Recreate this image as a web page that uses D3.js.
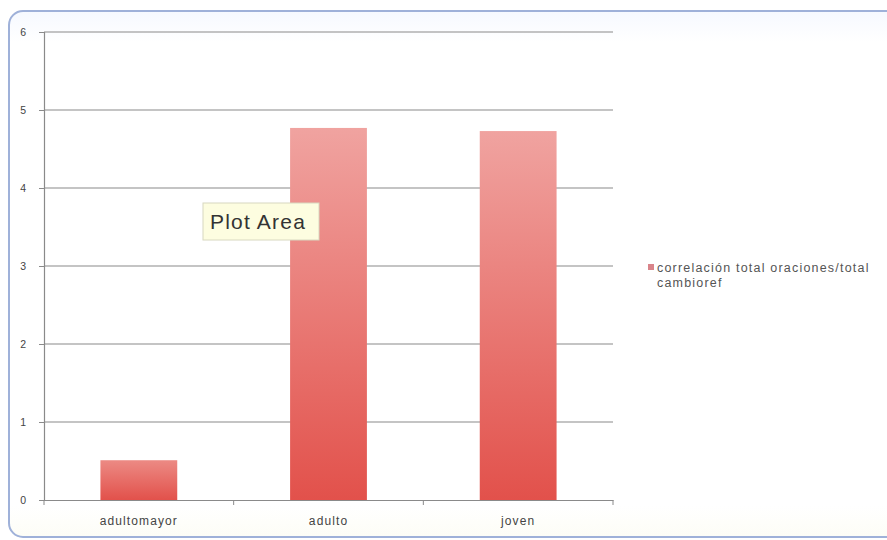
<!DOCTYPE html>
<html>
<head>
<meta charset="utf-8">
<script src="https://cdn.jsdelivr.net/npm/d3@7"></script>
<style>
  html, body { margin: 0; padding: 0; background: #ffffff; }
  svg { display: block; }
</style>
</head>
<body>
<svg id="chart" width="887" height="540"></svg>
<script>
// Chart data
const categories = ["adultomayor", "adulto", "joven"];
const values = [0.51, 4.77, 4.73];
const yTicks = [0, 1, 2, 3, 4, 5, 6];
const seriesName = ["correlación total oraciones/total", "cambioref"];
const tooltipText = "Plot Area";

const svg = d3.select("#chart");
const defs = svg.append("defs");

// Frame gradient (soft bluish-white panel)
const frameGrad = defs.append("linearGradient")
  .attr("id", "frameGrad").attr("x1", 0).attr("y1", 0).attr("x2", 0).attr("y2", 1);
frameGrad.append("stop").attr("offset", "0%").attr("stop-color", "#f6f9ff");
frameGrad.append("stop").attr("offset", "6%").attr("stop-color", "#ffffff");
frameGrad.append("stop").attr("offset", "94%").attr("stop-color", "#ffffff");
frameGrad.append("stop").attr("offset", "100%").attr("stop-color", "#fdfdf6");

// Bar gradient: light pink at top, deeper red at bottom
const barGrad = defs.append("linearGradient")
  .attr("id", "barGrad").attr("x1", 0).attr("y1", 0).attr("x2", 0).attr("y2", 1);
barGrad.append("stop").attr("offset", "0%").attr("stop-color", "#f0a3a0");
barGrad.append("stop").attr("offset", "100%").attr("stop-color", "#e2514b");

const barGradSmall = defs.append("linearGradient")
  .attr("id", "barGradSmall").attr("x1", 0).attr("y1", 0).attr("x2", 0).attr("y2", 1);
barGradSmall.append("stop").attr("offset", "0%").attr("stop-color", "#ec8a84");
barGradSmall.append("stop").attr("offset", "100%").attr("stop-color", "#e2514b");

// Outer chart frame
svg.append("rect")
  .attr("x", 9).attr("y", 11).attr("width", 900).attr("height", 526)
  .attr("rx", 14).attr("ry", 14)
  .attr("fill", "url(#frameGrad)")
  .attr("stroke", "#9fb1d9").attr("stroke-width", 2);

// Plot geometry
const plot = { left: 44, right: 613, top: 32, bottom: 500 };

const x = d3.scaleBand()
  .domain(categories)
  .range([plot.left, plot.right])
  .paddingInner(0.595)
  .paddingOuter(0.2975);

const y = d3.scaleLinear()
  .domain([0, 6])
  .range([plot.bottom, plot.top]);

// Horizontal gridlines
svg.append("g")
  .selectAll("line")
  .data(yTicks.filter(d => d > 0))
  .join("line")
  .attr("x1", plot.left).attr("x2", plot.right)
  .attr("y1", d => y(d)).attr("y2", d => y(d))
  .attr("stroke", "#8a8a8a").attr("stroke-width", 1.2);

// Y axis
const yAxis = svg.append("g")
  .attr("transform", `translate(${plot.left},0)`)
  .call(d3.axisLeft(y).tickValues(yTicks).tickSize(5).tickPadding(13).tickFormat(d3.format("d")));
yAxis.select(".domain").attr("stroke", "#8a8a8a").attr("stroke-width", 1.2);
yAxis.selectAll(".tick line").attr("stroke", "#8a8a8a");
yAxis.selectAll("text")
  .attr("fill", "#444").attr("font-family", "Liberation Sans, Arial, sans-serif").attr("font-size", 10.5);

// Bars
svg.append("g")
  .selectAll("rect")
  .data(values)
  .join("rect")
  .attr("x", (d, i) => x(categories[i]))
  .attr("y", d => y(d))
  .attr("width", x.bandwidth())
  .attr("height", d => y(0) - y(d))
  .attr("fill", d => d < 1 ? "url(#barGradSmall)" : "url(#barGrad)");

// X axis (category boundaries as ticks)
const boundaries = categories.map(c => x(c) - x.step() * x.paddingInner() / 2);
boundaries.push(plot.right);
svg.append("g")
  .selectAll("line")
  .data(boundaries)
  .join("line")
  .attr("x1", d => d).attr("x2", d => d)
  .attr("y1", plot.bottom).attr("y2", plot.bottom + 5)
  .attr("stroke", "#8a8a8a");

const xAxis = svg.append("g")
  .attr("transform", `translate(0,${plot.bottom})`)
  .call(d3.axisBottom(x).tickSize(0).tickPadding(16));
xAxis.select(".domain").attr("stroke", "#8a8a8a").attr("stroke-width", 1.2);
xAxis.selectAll("text")
  .attr("fill", "#444").attr("font-family", "Liberation Sans, Arial, sans-serif")
  .attr("font-size", 12).attr("letter-spacing", 1.1);

// Legend
const legend = svg.append("g").attr("transform", "translate(648,268)");
legend.append("rect")
  .attr("x", 0).attr("y", -4).attr("width", 6).attr("height", 6)
  .attr("fill", "#d9848a");
legend.selectAll("text")
  .data(seriesName)
  .join("text")
  .attr("x", 9)
  .attr("y", (d, i) => i * 15)
  .attr("dy", "0.35em")
  .attr("fill", "#555")
  .attr("font-family", "Liberation Sans, Arial, sans-serif")
  .attr("font-size", 12.5)
  .attr("letter-spacing", 1.2)
  .text(d => d);

// Hover tooltip label
const tip = svg.append("g").attr("transform", "translate(203,203)");
tip.append("rect")
  .attr("width", 116).attr("height", 37)
  .attr("fill", "#fdfde0")
  .attr("stroke", "#d8d8c0").attr("stroke-width", 1);
tip.append("text")
  .attr("x", 7).attr("y", 19)
  .attr("dy", "0.35em")
  .attr("fill", "#333")
  .attr("font-family", "Liberation Sans, Arial, sans-serif")
  .attr("font-size", 21)
  .attr("letter-spacing", 1.2)
  .text(tooltipText);
</script>
</body>
</html>
